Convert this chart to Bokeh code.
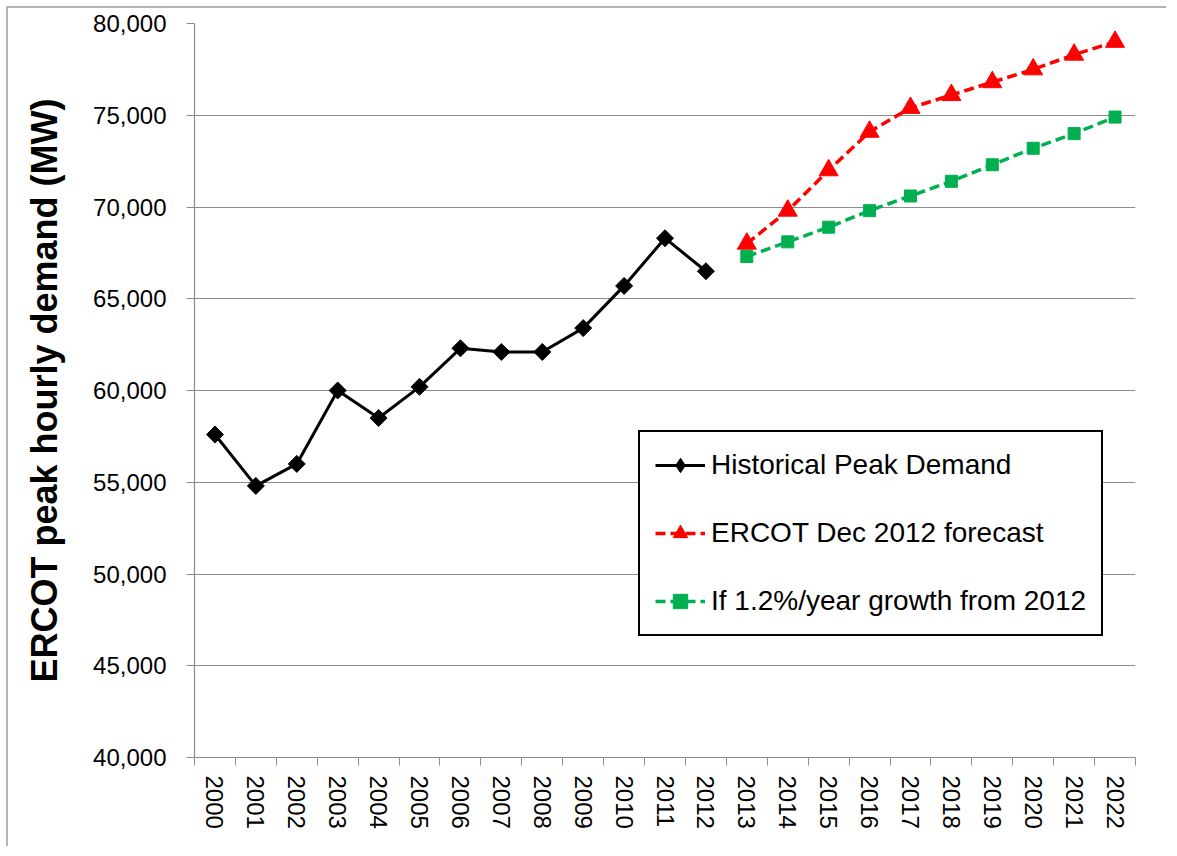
import math
from bokeh.plotting import figure
from bokeh.models import (Range1d, FactorRange, LinearAxis, FixedTicker,
                          NumeralTickFormatter, Legend, LegendItem,
                          CustomLabelingPolicy)
from bokeh.embed import file_html
from bokeh.resources import INLINE

FONT = "Liberation Sans"

years = ["2000", "2001", "2002", "2003", "2004", "2005", "2006", "2007",
         "2008", "2009", "2010", "2011", "2012", "2013", "2014", "2015",
         "2016", "2017", "2018", "2019", "2020", "2021", "2022"]

hist_years = years[:13]
hist_mw = [57600, 54800, 56000, 60000, 58500, 60200, 62300, 62100,
           62100, 63400, 65700, 68300, 66500]

fc_years = years[13:]
ercot_mw = [68000, 69800, 72000, 74100, 75400, 76100, 76800, 77500,
            78300, 79000]
growth_mw = [67300, 68100, 68900, 69800, 70600, 71400, 72300, 73200,
             74000, 74900]

y_ticks = [40000, 45000, 50000, 55000, 60000, 65000, 70000, 75000, 80000]

GRID = "#8c8c8c"

p = figure(width=1160, height=840,
           x_range=FactorRange(*years), y_range=Range1d(40000, 80000),
           output_backend="svg", toolbar_location=None,
           min_border_left=186, min_border_right=33,
           min_border_top=15, min_border_bottom=91)
# chart-area border (only its left and top edges fall inside the picture)
p.styles = {"margin-left": "6px", "margin-top": "6px",
            "border-left": "2px solid #b3b3b3",
            "border-top": "2px solid #b3b3b3"}
p.outline_line_color = None
p.xgrid.grid_line_color = None
p.ygrid.grid_line_color = GRID
p.ygrid.grid_line_width = 1.2

# y axis
p.yaxis.ticker = FixedTicker(ticks=y_ticks)
p.yaxis.formatter = NumeralTickFormatter(format="0,0")
p.yaxis.axis_label = "ERCOT peak hourly demand (MW)"
p.yaxis.axis_label_text_font = FONT
p.yaxis.axis_label_text_font_size = "36px"
p.yaxis.axis_label_text_font_style = "bold"
p.yaxis.axis_label_text_color = "black"
p.yaxis.axis_label_standoff = 25
p.yaxis.major_label_text_font = FONT
p.yaxis.major_label_text_font_size = "24px"
p.yaxis.major_label_text_color = "black"
p.yaxis.major_label_standoff = 20
p.yaxis.axis_line_color = GRID
p.yaxis.axis_line_width = 1.2
p.yaxis.major_tick_line_color = GRID
p.yaxis.major_tick_out = 8
p.yaxis.major_tick_in = 0
p.yaxis.minor_tick_line_color = None

# x axis: labels in the middle of each slot, ticks between slots (Excel style).
# The categorical range maps slot edges to 0, 1, ... 23 in synthetic units.
no_labels = CustomLabelingPolicy(
    code="for (const i of [...indices]) indices.unset(i); return indices")
slot_axis = LinearAxis(ticker=FixedTicker(ticks=list(range(len(years) + 1))),
                       major_label_policy=no_labels,
                       major_label_text_font_size="1px",
                       major_label_standoff=0,
                       axis_line_color=GRID, axis_line_width=1.2,
                       major_tick_line_color=GRID, major_tick_out=8,
                       major_tick_in=0, minor_tick_line_color=None)
xax = p.xaxis[0]
p.add_layout(slot_axis, "below")
p.below = [slot_axis] + [a for a in p.below if a is not slot_axis]

xax.axis_line_color = None
xax.major_tick_line_color = None
xax.major_label_orientation = "vertical"
xax.major_label_text_font = FONT
xax.major_label_text_font_size = "24px"
xax.major_label_text_color = "black"
xax.major_label_standoff = 0

# series
h_line = p.line(hist_years, hist_mw, line_color="black", line_width=3)
# diamond drawn under the rotated squares: it is only the legend key
h_key = p.scatter(hist_years, hist_mw, marker="diamond", size=14,
                  fill_color="black", line_color="black")
h_pts = p.scatter(hist_years, hist_mw, marker="square", angle=math.pi / 4,
                  size=12, fill_color="black", line_color="black")

e_line = p.line(fc_years, ercot_mw, line_color="#ff0000", line_width=3.5,
                line_dash="10 5")
e_pts = p.scatter(fc_years, ercot_mw, marker="triangle", size=19,
                  fill_color="#ff0000", line_color="#ff0000")

g_line = p.line(fc_years, growth_mw, line_color="#00b050", line_width=3.5,
                line_dash="10 5")
g_pts = p.scatter(fc_years, growth_mw, marker="square", size=12,
                  fill_color="#00b050", line_color="#00b050")

legend = Legend(items=[
    LegendItem(label="Historical Peak Demand", renderers=[h_line, h_key]),
    LegendItem(label="ERCOT Dec 2012 forecast", renderers=[e_line, e_pts]),
    LegendItem(label="If 1.2%/year growth from 2012", renderers=[g_line, g_pts]),
], location=(444, 121))
legend.border_line_color = "black"
legend.border_line_alpha = 1
legend.border_line_width = 2
legend.background_fill_color = "white"
legend.background_fill_alpha = 1
legend.label_text_font = FONT
legend.label_text_font_size = "28px"
legend.label_text_color = "black"
legend.glyph_width = 50
legend.glyph_height = 36
legend.label_height = 36
legend.spacing = 32
legend.padding = 15
legend.margin = 0
legend.label_standoff = 6
p.add_layout(legend)

open("out.html", "w").write(file_html(p, INLINE))
